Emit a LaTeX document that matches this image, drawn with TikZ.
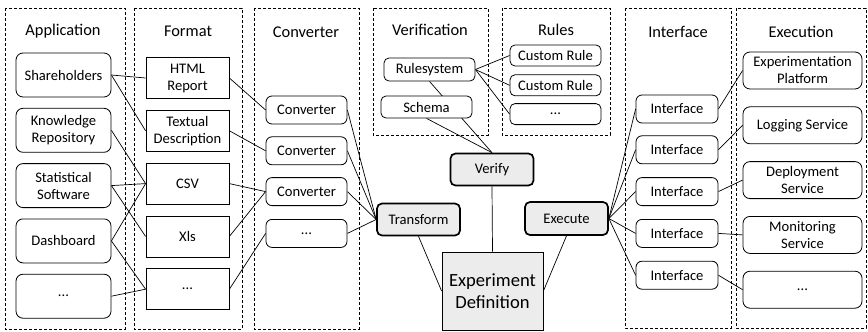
\documentclass[tikz,border=0pt]{standalone}
\usepackage{fontspec}
\setmainfont{Carlito}
\usetikzlibrary{positioning,backgrounds}

\begin{document}
\begin{tikzpicture}[
  x = 1pt, y = -1pt,
  every node/.style = {font=\fontsize{14.6}{17}\selectfont, align=center, inner sep=1pt},
  group/.style   = {draw, line width=0.7pt, dash pattern=on 3pt off 2pt},
  title/.style   = {font=\fontsize{16.4}{19}\selectfont},
  app/.style     = {rectangle, rounded corners=7pt, draw, fill=white, line width=0.8pt,
                    minimum width=95pt, minimum height=44pt},
  fmt/.style     = {rectangle, draw, fill=white, line width=0.8pt,
                    minimum width=83pt, minimum height=41pt},
  conv/.style    = {rectangle, rounded corners=6pt, draw, fill=white, line width=0.8pt,
                    minimum width=81pt, minimum height=28pt},
  small/.style   = {rectangle, rounded corners=5pt, draw, fill=white, line width=0.8pt,
                    minimum width=91pt, minimum height=22pt},
  service/.style = {rectangle, rounded corners=7pt, draw, fill=white, line width=0.8pt,
                    minimum width=119pt, minimum height=37pt},
  action/.style  = {rectangle, rounded corners=5pt, draw, fill=gray!15,
                    line width=1.7pt, minimum width=83pt, minimum height=32pt},
  link/.style    = {draw, line width=0.7pt},
]

\useasboundingbox (0,0) rectangle (868,332);

% ── Dashed groups and their titles ───────────────────────────
\draw[group] (5,8)   rectangle (125,329);
\draw[group] (134,8) rectangle (242,329);
\draw[group] (254,8) rectangle (359,329);
\draw[group] (373,8) rectangle (488,135);
\draw[group] (502,8) rectangle (610,135);
\draw[group] (625,8) rectangle (731,328);
\draw[group] (736,8) rectangle (866,328);

\node[title] (tApp)  at (63,31)  {Application};
\node[title] (tFmt)  at (188,31) {Format};
\node[title] (tConv) at (306,32) {Converter};
\node[title] (tVer)  at (430,30) {Verification};
\node[title] (tRul)  at (556,30) {Rules};
\node[title] (tIfc)  at (678,32) {Interface};
\node[title] (tExe)  at (801,32) {Execution};

% ── Application ──────────────────────────────────────────────
\node[app] (share) at (63.5,75)     {Shareholders};
\node[app, below=10.5pt of share] (know)  {Knowledge\\Repository};
\node[app, below=10.5pt of know]  (stat)  {Statistical\\Software};
\node[app, below=10.5pt of stat]  (dash)  {Dashboard};
\node[app, below=10.5pt of dash]  (appx)  {...};

% ── Format ───────────────────────────────────────────────────
\node[fmt] (html) at (187.5,78)     {HTML\\Report};
\node[fmt, below=11pt of html] (text) {Textual\\Description};
\node[fmt, below=11pt of text] (csv)  {CSV};
\node[fmt, below=11pt of csv]  (xls)  {Xls};
\node[fmt, below=11pt of xls]  (fmtx) {...};

% ── Converter ────────────────────────────────────────────────
\node[conv] (conv1) at (306.5,110)   {Converter};
\node[conv, below=12pt of conv1] (conv2) {Converter};
\node[conv, below=12pt of conv2] (conv3) {Converter};
\node[conv, below=13pt of conv3] (convx) {...};

% ── Verification and rules ───────────────────────────────────
\node[small, minimum height=23pt] (rsys) at (429.5,69.5) {Rulesystem};
\node[small] (schema) at (426.5,107) {Schema};

\node[small, minimum height=21pt] (rule1) at (555.5,55.5) {Custom Rule};
\node[small, minimum height=21pt, below=8pt of rule1] (rule2) {Custom Rule};
\node[small, minimum height=21pt, below=7pt of rule2] (rulex) {...};

% ── Core ─────────────────────────────────────────────────────
\node[action] (trans) at (418.5,219.5) {Transform};
\node[action] (verify) at (492,169.5)  {Verify};
\node[action, minimum height=33pt] (exec) at (566.5,218.5) {Execute};
\node[rectangle, draw, fill=gray!15, line width=0.8pt, minimum width=101pt, minimum height=78pt,
      font=\fontsize{18.6}{21.5}\selectfont] (expdef) at (492.5,291) {Experiment\\Definition};

% ── Interface ────────────────────────────────────────────────
\node[conv, minimum width=82pt] (ifc1) at (677,109) {Interface};
\node[conv, minimum width=82pt, below=12pt of ifc1] (ifc2) {Interface};
\node[conv, minimum width=82pt, below=13pt of ifc2] (ifc3) {Interface};
\node[conv, minimum width=82pt, below=13pt of ifc3] (ifc4) {Interface};
\node[conv, minimum width=82pt, below=13pt of ifc4] (ifc5) {Interface};

% ── Execution ────────────────────────────────────────────────
\node[service] (platform) at (802.5,70.5) {Experimentation\\Platform};
\node[service, below=17pt of platform] (logging) {Logging Service};
\node[service, below=17pt of logging]  (deploy)  {Deployment\\Service};
\node[service, below=17pt of deploy]   (monitor) {Monitoring\\Service};
\node[service, below=17pt of monitor]  (execx)   {...};

% ── Connectors (behind the boxes) ────────────────────────────
\begin{scope}[on background layer]
  \draw[link] (share.east) -- (html.west);
  \draw[link] (share.east) -- (text.west);
  \draw[link] (know.east)  -- (csv.west);
  \draw[link] (stat.east)  -- (csv.west);
  \draw[link] (stat.east)  -- (xls.west);
  \draw[link] (dash.east)  -- (csv.west);
  \draw[link] (dash.east)  -- (fmtx.west);
  \draw[link] (appx.east)  -- (fmtx.west);

  \draw[link] (html.east) -- (conv1.west);
  \draw[link] (text.east) -- (conv2.west);
  \draw[link] (csv.east)  -- (conv3.west);
  \draw[link] (xls.east)  -- (conv3.west);
  \draw[link] (fmtx.east) -- (convx.west);

  \draw[link] (conv1.east) -- (trans.west);
  \draw[link] (conv2.east) -- (trans.west);
  \draw[link] (conv3.east) -- (trans.west);
  \draw[link] (convx.east) -- (trans.west);

  \draw[link] (rsys.east) -- (rule1.west);
  \draw[link] (rsys.east) -- (rule2.west);
  \draw[link] (rsys.east) -- (rulex.west);
  \draw[link] (rsys.south)   -- (verify.north);
  \draw[link] (schema.south) -- (verify.north);

  \draw[link] (trans.south)  -- (expdef.west);
  \draw[link] (verify.south) -- (expdef.north);
  \draw[link] (exec.south)   -- (expdef.east);

  \draw[link] (exec.east) -- (ifc1.west);
  \draw[link] (exec.east) -- (ifc2.west);
  \draw[link] (exec.east) -- (ifc3.west);
  \draw[link] (exec.east) -- (ifc4.west);
  \draw[link] (exec.east) -- (ifc5.west);

  \draw[link] (ifc1.east) -- (platform.west);
  \draw[link] (ifc2.east) -- (logging.west);
  \draw[link] (ifc3.east) -- (deploy.west);
  \draw[link] (ifc4.east) -- (monitor.west);
  \draw[link] (ifc5.east) -- (execx.west);
\end{scope}

\end{tikzpicture}
\end{document}
